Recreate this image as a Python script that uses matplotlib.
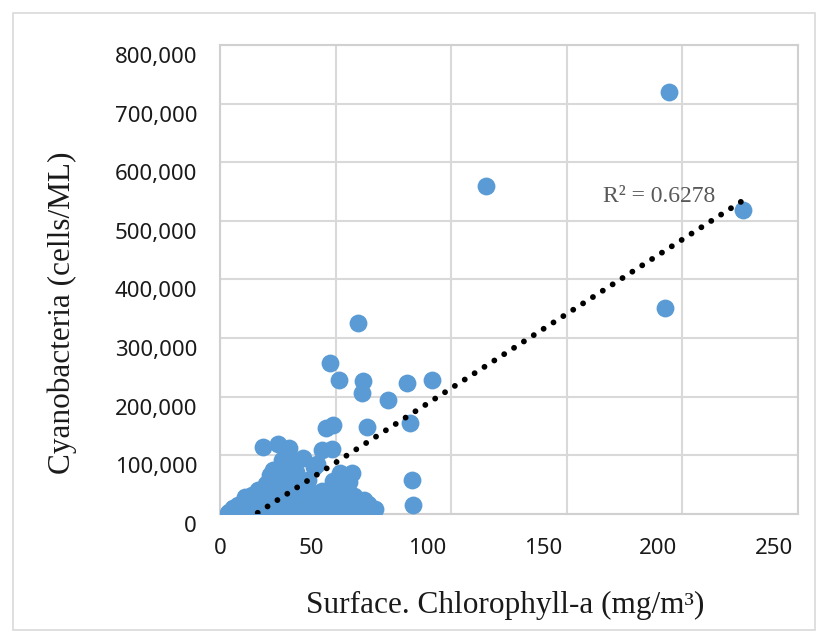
import numpy as np
import matplotlib
matplotlib.use("Agg")
import matplotlib.pyplot as plt
import matplotlib.transforms as mtransforms
from matplotlib.patches import Rectangle

# chlorophyll-a (mg/m3) and cyanobacteria (cells/ML)
chl_outliers = [194, 115, 226, 192.5, 59.5, 47.5, 51.5, 62, 61.5, 72.5, 81, 91.5, 82, 63.5, 46, 49, 83, 83.5]
cyano_outliers = [720000, 560000, 519000, 352000, 325000, 258000, 229000, 227000, 207000, 195000,
                  224000, 229000, 155000, 148000, 147000, 152000, 58000, 15000]

chl_upper = [18.5, 25, 30, 27, 31.5, 44, 48.5, 40.5, 52, 57, 56, 62.5, 64.5, 21.5, 16.5, 11, 5.5, 3.5]
cyano_upper = [114000, 120000, 113000, 92000, 88000, 110000, 111000, 80000, 70000, 70000,
               55000, 24000, 12000, 66000, 41000, 29000, 10000, 2000]

chl_low = [4, 7, 9, 12, 14, 17, 19, 22, 25, 28, 31, 34, 37, 40, 43, 46, 49, 52, 55, 58, 61, 64, 67,
           8, 11, 15, 18, 21, 24, 27, 30, 33, 36, 39, 42, 45, 48, 51, 54, 57, 60, 64,
           14, 18, 22, 26, 29, 33, 36, 40, 44, 47, 50, 54, 58,
           20, 24, 28, 32, 35, 38, 49,
           23, 28, 33, 36, 42]
cyano_low = [3000, 1500, 5000, 2000, 6000, 3000, 1000, 4000, 2500, 7000, 1500, 3000, 5000, 2000, 4000,
             1000, 6000, 2000, 3500, 1500, 5000, 2500, 8000,
             15000, 20000, 18000, 24000, 16000, 22000, 19000, 25000, 17000, 21000, 23000, 15000, 20000,
             18000, 24000, 16000, 22000, 19000, 17000,
             32000, 38000, 44000, 35000, 42000, 30000, 45000, 36000, 40000, 33000, 43000, 38000, 31000,
             52000, 60000, 55000, 64000, 50000, 58000, 56000,
             75000, 70000, 72000, 95000, 85000]

x_ticks = [0, 50, 100, 150, 200, 250]
y_ticks = [0, 100000, 200000, 300000, 400000, 500000, 600000, 700000, 800000]
r2_label = "R² = 0.6278"

chl = np.array(chl_low + chl_upper + chl_outliers, dtype=float)
cyano = np.array(cyano_low + cyano_upper + cyano_outliers, dtype=float)

fig = plt.figure(figsize=(8.28, 6.39), dpi=100)
ax = fig.add_axes([220 / 828, 1 - 514 / 639, 578 / 828, 469 / 639])

ax.scatter(chl, cyano, s=165, color="#5B9BD5", linewidths=0, zorder=3)

# linear trendline
slope, icpt = np.polyfit(chl, cyano, 1)
xs = np.array([chl.min(), chl.max()])
ax.plot(xs, slope * xs + icpt, color="black", lw=4.2, linestyle=(0, (0.01, 2.0)),
        dash_capstyle="round", zorder=4)

ax.text(165.7, 541000, r2_label, ha="left", va="center", fontsize=17,
        family="Liberation Serif", color="#595959", zorder=5)

ax.set_xlim(0, 250)
ax.set_ylim(0, 800000)
ax.set_xticks(x_ticks)
ax.set_yticks(y_ticks)
ax.set_xticklabels([str(v) for v in x_ticks])
ax.set_yticklabels([f"{v:,}" for v in y_ticks])
ax.grid(True, color="#D9D9D9", lw=1.5, zorder=0)
ax.set_axisbelow(True)
for sp in ax.spines.values():
    sp.set_color("#D0D0D0")
    sp.set_linewidth(1.5)
ax.tick_params(length=0, labelsize=16, labelcolor="#1a1a1a")
ax.tick_params(axis="x", pad=17)
ax.tick_params(axis="y", pad=16.5)
for lab in ax.get_xticklabels() + ax.get_yticklabels():
    lab.set_family("Noto Sans")

# tick labels sit a little off the grid in the original
dx = mtransforms.ScaledTranslation(-24 / 100, 0, fig.dpi_scale_trans)
dy = mtransforms.ScaledTranslation(0, -10 / 100, fig.dpi_scale_trans)
for lab in ax.get_xticklabels()[1:]:
    lab.set_transform(lab.get_transform() + dx)
for lab in ax.get_yticklabels():
    lab.set_transform(lab.get_transform() + dy)

fig.text(62 / 828, 1 - 313 / 639, "Cyanobacteria (cells/ML)", rotation=90, ha="center", va="center",
         fontsize=22.5, family="Liberation Serif", color="#1a1a1a")
fig.text(505 / 828, 1 - 605 / 639, "Surface. Chlorophyll-a (mg/m³)", ha="center", va="center",
         fontsize=22.5, family="Liberation Serif", color="#1a1a1a")

fig.patches.append(Rectangle((13 / 828, 1 - 630 / 639), 802 / 828, 617 / 639, transform=fig.transFigure,
                             fill=False, edgecolor="#D9D9D9", lw=1.2))

fig.savefig("out.png", dpi=100)
